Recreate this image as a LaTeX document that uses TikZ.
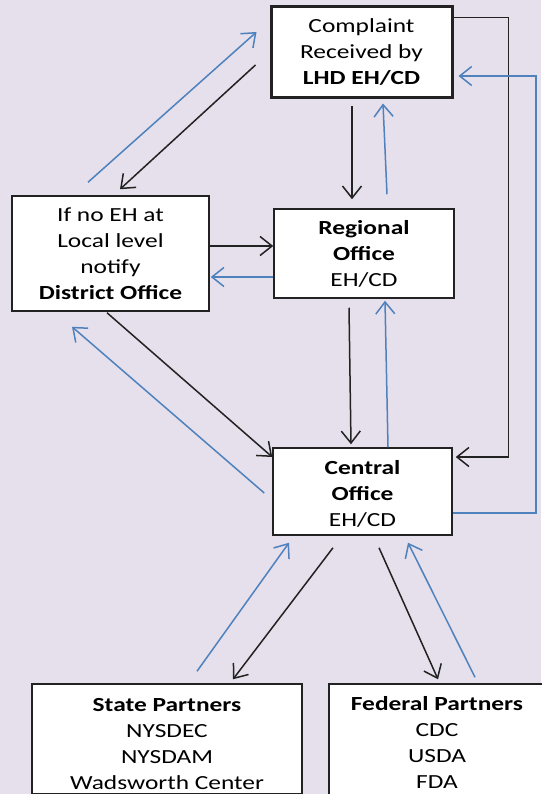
\documentclass[tikz,border=0pt]{standalone}
\usepackage{fontspec}
\setmainfont{Carlito}[FakeStretch=1.27]
\usetikzlibrary{arrows.meta}
\definecolor{bgc}{HTML}{E5E0EC}
\definecolor{bluec}{HTML}{4F81BD}
\definecolor{blkc}{HTML}{222222}
\tikzset{
  box/.style={draw=blkc, fill=white, line width=1.5pt, inner sep=0pt, align=center,
    font=\fontsize{20}{26}\selectfont, text=black},
  tip/.style={-{Straight Barb[length=12pt,width=19pt,line width=1.5pt]}},
  blk/.style={tip, draw=blkc, line width=1.5pt},
  blu/.style={tip, draw=bluec, line width=1.5pt},
}
\begin{document}
\begin{tikzpicture}[x=1pt,y=-1pt]
\useasboundingbox[fill=bgc] (0,0) rectangle (541,794);
\node[box, line width=3pt, minimum width=181pt, minimum height=91pt] (cpl) at (361.5,52.5)
  {Complaint\\Received by\\\textbf{LHD EH/CD}};
\node[box, minimum width=197pt, minimum height=115pt] (dist) at (110.5,253.5)
  {If no EH at\\Local level\\notify\\\textbf{District Office}};
\node[box, minimum width=180pt, minimum height=89pt] (reg) at (364,253.5)
  {\textbf{Regional}\\\textbf{Office}\\EH/CD};
\node[box, minimum width=179pt, minimum height=87pt] (cen) at (362.5,491.5)
  {\rule{0pt}{18pt}\textbf{Central}\\\textbf{Office}\\EH/CD};
\node[box, minimum width=270pt, minimum height=110pt] (state) at (167,739)
  {\rule{0pt}{24pt}\textbf{State Partners}\\NYSDEC\\NYSDAM\\Wadsworth Center};
\node[box, minimum width=216pt, minimum height=116pt] (fed) at (437,742)
  {\textbf{Federal Partners}\\CDC\\USDA\\FDA};

% Complaint <-> District
\draw[blk] ([shift={(-14,12.5)}]cpl.west) -- ([shift={(9.5,-6)}]dist.north);
\draw[blu] ([shift={(-22.5,-13)}]dist.north) -- ([shift={(-13,-20.5)}]cpl.west);
% Complaint <-> Regional
\draw[blk] ([shift={(-9.5,7)}]cpl.south) -- ([shift={(-12,-9)}]reg.north);
\draw[blu] ([shift={(23,-14)}]reg.north) -- ([shift={(21.5,4)}]cpl.south);
% District <-> Regional
\draw[blk] ([shift={(0,-7.5)}]dist.east) -- ([shift={(0,-7.5)}]reg.west);
\draw[blu] ([shift={(0,23.5)}]reg.west) -- ([shift={(1,23.5)}]dist.east);
% Regional <-> Central
\draw[blk] ([shift={(-15,9)}]reg.south) -- ([shift={(-11.5,-3)}]cen.north);
\draw[blu] ([shift={(25.5,0)}]cen.north) -- ([shift={(21,2)}]reg.south);
% Complaint <-> Central (right side)
\draw[blk, line width=1.8pt] ([shift={(0,12)}]cpl.north east) -- ++(55,0) |- ([shift={(3,-34.5)}]cen.east);
\draw[blu] ([shift={(0,21.5)}]cen.east) -- ++(83,0) |- ([shift={(5,23.5)}]cpl.east);
% District <-> Central
\draw[blk] ([shift={(-3.5,1)}]dist.south) -- ([shift={(0,-34.5)}]cen.west);
\draw[blu] ([shift={(-8,1.5)}]cen.west) -- ([shift={(-38.5,15)}]dist.south);
% Central <-> State
\draw[blk] ([shift={(-29.5,12)}]cen.south) -- ([shift={(66,-4)}]state.north);
\draw[blu] ([shift={(30,-12)}]state.north) -- ([shift={(-73.5,7)}]cen.south);
% Central <-> Federal
\draw[blk] ([shift={(16.5,12)}]cen.south) -- ([shift={(1,-4)}]fed.north);
\draw[blu] ([shift={(38,-6)}]fed.north) -- ([shift={(45.5,7)}]cen.south);
\end{tikzpicture}
\end{document}
